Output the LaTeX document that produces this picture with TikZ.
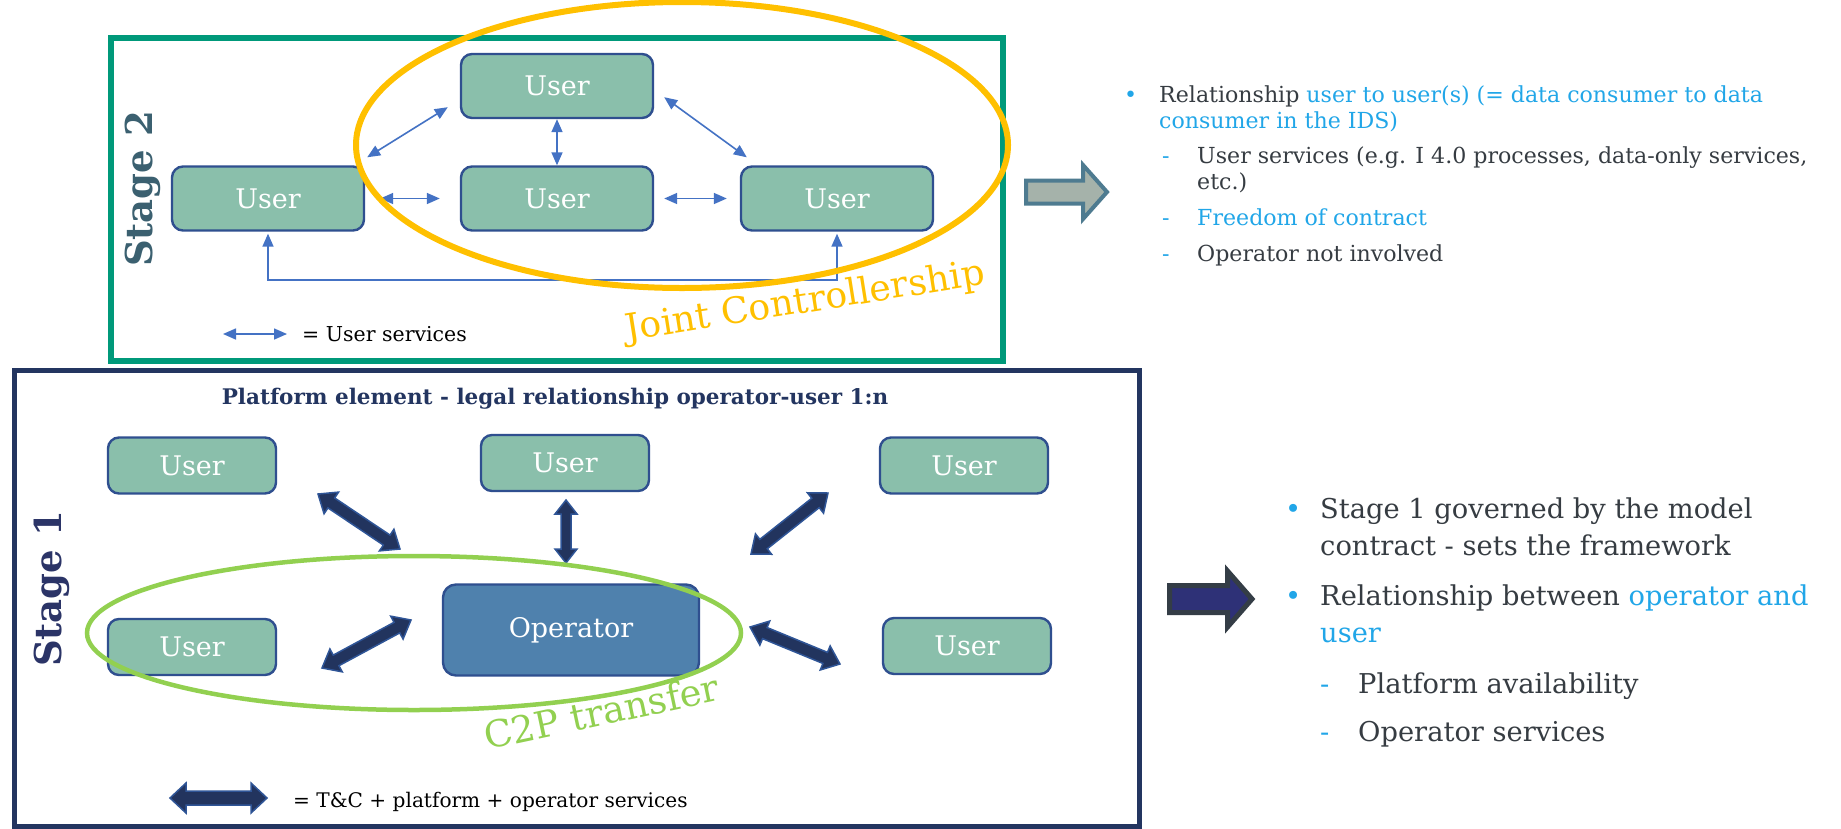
\documentclass[tikz,border=0pt]{standalone}
\usepackage{fontspec}
\setmainfont{DejaVu Serif}
\usetikzlibrary{arrows.meta,calc}

\definecolor{stagetwo}{HTML}{00997A}
\definecolor{stageone}{HTML}{233560}
\definecolor{userfill}{HTML}{8ABFAB}
\definecolor{boxline}{HTML}{2F4F8F}
\definecolor{opfill}{HTML}{4F81AD}
\definecolor{linkblue}{HTML}{4472C4}
\definecolor{jcyellow}{HTML}{FFC000}
\definecolor{c2pgreen}{HTML}{92D050}
\definecolor{fatnavy}{HTML}{22345E}
\definecolor{fatedge}{HTML}{2F5597}
\definecolor{labeltwo}{HTML}{3B6070}
\definecolor{labelone}{HTML}{2B3467}
\definecolor{bodytext}{HTML}{363C42}
\definecolor{accent}{HTML}{21A6E8}
\definecolor{greyarrow}{HTML}{A5B2AA}
\definecolor{greyedge}{HTML}{4E7B90}
\definecolor{navyarrow}{HTML}{2E3177}
\definecolor{navyedge}{HTML}{343D46}

\tikzset{
  ubox/.style={draw=boxline, line width=2.4, fill=userfill, rounded corners=11,
    text=white, font=\fontsize{27}{27}\selectfont, inner sep=0},
  ubigbox/.style={ubox, minimum width=192, minimum height=64},
  usmallbox/.style={ubox, minimum width=168, minimum height=56},
  opbox/.style={ubox, fill=opfill, minimum width=256, minimum height=91, rounded corners=13},
  thinlink/.style={linkblue, line width=1.6,
    {Triangle[length=13pt,width=11pt]}-{Triangle[length=13pt,width=11pt]}},
  fatstyle/.style={fill=fatnavy, draw=fatedge, line width=1.5, line join=miter},
  rtext/.style={anchor=base west, text=bodytext, inner sep=0},
  txtA/.style={rtext, font=\fontsize{22.1}{22.1}\selectfont},
  txtB/.style={rtext, font=\fontsize{27.3}{27.3}\selectfont},
}

% double-headed block arrow between two points:
% #1 start, #2 end, #3 half shaft width, #4 half head width, #5 head length
\newcommand\fatarrow[5]{%
  \path[fatstyle] let \p1=(#1), \p2=(#2),
      \n1={atan2(\y2-\y1,\x2-\x1)}, \n2={veclen(\x2-\x1,\y2-\y1)} in
    (\p1)
    -- ($(\p1)+(\n1:#5pt)+(\n1+90:#4pt)$)
    -- ($(\p1)+(\n1:#5pt)+(\n1+90:#3pt)$)
    -- ($(\p1)+(\n1:\n2-#5pt)+(\n1+90:#3pt)$)
    -- ($(\p1)+(\n1:\n2-#5pt)+(\n1+90:#4pt)$)
    -- (\p2)
    -- ($(\p1)+(\n1:\n2-#5pt)+(\n1-90:#4pt)$)
    -- ($(\p1)+(\n1:\n2-#5pt)+(\n1-90:#3pt)$)
    -- ($(\p1)+(\n1:#5pt)+(\n1-90:#3pt)$)
    -- ($(\p1)+(\n1:#5pt)+(\n1-90:#4pt)$)
    -- cycle;
}

\begin{document}
\begin{tikzpicture}[x=1pt,y=-1pt]
\useasboundingbox (0,0) rectangle (1841,828);
\fill[white] (0,0) rectangle (1841,828);

% ---------------- Stage 2 ----------------
\draw[stagetwo, line width=6] (111,38) rectangle (1003,361);
\node[rotate=90, text=labeltwo, font=\bfseries\fontsize{37}{37}\selectfont] (s2) at (143,189) {Stage 2};

\node[ubigbox] (u2t) at (557,86) {User};
\node[ubigbox] (u2l) at (268,198.5) {User};
\node[ubigbox] (u2m) at (557,198.5) {User};
\node[ubigbox] (u2r) at (837,198.5) {User};

\draw[thinlink] ([shift={(-12,-12)}]u2t.south west) -- ([shift={(2,-8)}]u2l.north east);
\draw[thinlink] (u2t.south) -- (u2m.north);
\draw[thinlink] ([shift={(10,-22)}]u2t.south east) -- ([shift={(7,-8)}]u2r.north west);
\draw[thinlink, shorten <=15, shorten >=20] (u2l.east) -- (u2m.west);
\draw[thinlink, shorten <=10, shorten >=13] (u2m.east) -- (u2r.west);
\coordinate (loopbase) at (0,280);
\draw[thinlink, shorten <=2, shorten >=2] (u2l.south) -- (u2l.south |- loopbase)
  -- (u2r.south |- loopbase) -- (u2r.south);

\coordinate (lg2a) at (223,334);
\coordinate (lg2b) at (287,334);
\draw[thinlink] (lg2a) -- (lg2b);
\node[anchor=base west, inner sep=0, font=\fontsize{20.5}{20.5}\selectfont] (lg2t) at (302,341) {= User services};

\draw[jcyellow, line width=6] (682,145) ellipse [x radius=326, y radius=143];
\node[rotate=9, anchor=base west, inner sep=0, text=jcyellow, font=\fontsize{36.3}{36.3}\selectfont] (jc) at (627,341) {Joint Controllership};

% grey pointer arrow
\draw[greyedge, fill=greyarrow, line width=4, line join=miter]
  (1026,180.5) -- (1083,180.5) -- (1083,165) -- (1107,192) -- (1083,219) -- (1083,203.5) -- (1026,203.5) -- cycle;

% Stage 2 notes
\node[txtA, text=accent] (b2a) at (1124,102) {\textbullet};
\node[txtA] (l2a) at (1159,102) {Relationship \textcolor{accent}{user to user(s) (= data consumer to data}};
\node[txtA, text=accent] (l2b) at (1159,128) {consumer in the IDS)};
\node[txtA, text=accent] (d2a) at (1162,163) {-};
\node[txtA] (l2c) at (1197,163) {User services (e.g. I 4.0 processes, data-only services,};
\node[txtA] (l2d) at (1197,189) {etc.)};
\node[txtA, text=accent] (d2b) at (1162,225) {-};
\node[txtA, text=accent] (l2e) at (1197,225) {Freedom of contract};
\node[txtA, text=accent] (d2c) at (1162,261) {-};
\node[txtA] (l2f) at (1197,261) {Operator not involved};

% ---------------- Stage 1 ----------------
\draw[stageone, line width=5] (14,370.5) rectangle (1139,826);
\node[rotate=90, text=labelone, font=\bfseries\fontsize{37}{37}\selectfont] (s1) at (52,589) {Stage 1};
\node[anchor=base, inner sep=0, text=stageone, font=\bfseries\fontsize{21.5}{21.5}\selectfont] (title) at (555,404)
  {Platform element - legal relationship operator-user 1:n};

\node[usmallbox] (u1tl) at (192,465.5) {User};
\node[usmallbox] (u1tm) at (565,463) {User};
\node[usmallbox] (u1tr) at (964,465.5) {User};
\node[usmallbox] (u1l)  at (192,647) {User};
\node[usmallbox] (u1r)  at (967,646) {User};
\node[opbox] (op) at (571,630) {Operator};

\coordinate (f1a) at (318,494);  \coordinate (f1b) at (400,549);
\coordinate (f2a) at (566,500);  \coordinate (f2b) at (566,563);
\coordinate (f3a) at (828,493);  \coordinate (f3b) at (751,554);
\coordinate (f4a) at (322,668);  \coordinate (f4b) at (411,620);
\coordinate (f5a) at (750,627);  \coordinate (f5b) at (840,664);
\fatarrow{f1a}{f1b}{6}{13}{16}
\fatarrow{f2a}{f2b}{5}{11}{14}
\fatarrow{f3a}{f3b}{6}{13}{16}
\fatarrow{f4a}{f4b}{6}{13}{16}
\fatarrow{f5a}{f5b}{6}{13}{16}

\draw[c2pgreen, line width=4.5] (414,633) ellipse [x radius=327, y radius=77];
\node[rotate=12, anchor=base west, inner sep=0, text=c2pgreen, font=\fontsize{37}{37}\selectfont] (c2p) at (487,750) {C2P transfer};

\coordinate (lg1a) at (170,798);
\coordinate (lg1b) at (267,798);
\fatarrow{lg1a}{lg1b}{7}{15}{16}
\node[anchor=base west, inner sep=0, font=\fontsize{20.1}{20.1}\selectfont] (lg1t) at (293,807) {= T\&C + platform + operator services};

% navy pointer arrow
\draw[navyedge, fill=navyarrow, line width=5, line join=miter]
  (1169.5,585.5) -- (1227.5,585.5) -- (1227.5,571) -- (1252,599) -- (1227.5,627) -- (1227.5,612.5) -- (1169.5,612.5) -- cycle;

% Stage 1 notes
\node[txtB, text=accent] (b1a) at (1285,518) {\textbullet};
\node[txtB] (l1a) at (1320,518) {Stage 1 governed by the model};
\node[txtB] (l1b) at (1320,555) {contract - sets the framework};
\node[txtB, text=accent] (b1b) at (1285,605) {\textbullet};
\node[txtB] (l1c) at (1320,605) {Relationship between \textcolor{accent}{operator and}};
\node[txtB, text=accent] (l1d) at (1320,642) {user};
\node[txtB, text=accent] (d1a) at (1320,693) {-};
\node[txtB] (l1e) at (1358,693) {Platform availability};
\node[txtB, text=accent] (d1b) at (1320,741) {-};
\node[txtB] (l1f) at (1358,741) {Operator services};
\end{tikzpicture}
\end{document}
